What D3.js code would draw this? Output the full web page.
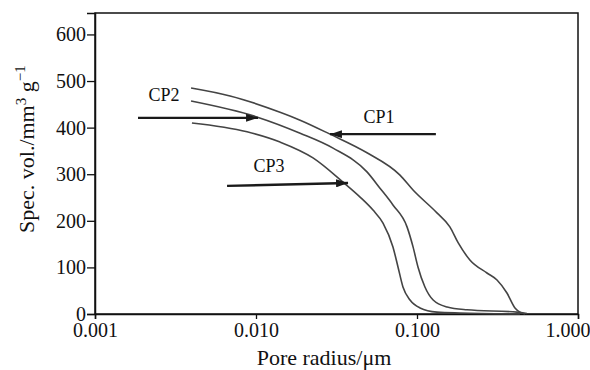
<!DOCTYPE html>
<html>
<head>
<meta charset="utf-8">
<script src="https://cdn.jsdelivr.net/npm/d3@7"></script>
<style>
    body { margin: 0; background: #fff; }
    svg text { font-family: "Liberation Serif", "Times New Roman", serif; fill: #111; }
</style>
</head>
<body>
<div id="chart"></div>
<script>
// pore size distribution
var cp1Radius = [0.00395, 0.0069, 0.0141, 0.0188, 0.0288, 0.0489, 0.0784, 0.0945, 0.133, 0.160, 0.180, 0.213, 0.272, 0.314, 0.362, 0.406, 0.436, 0.469];
var cp1Volume = [485, 468, 433, 416, 386, 346, 298, 266, 217, 187, 153, 116, 88, 73, 45, 13, 4, 0];

var cp2Radius = [0.00395, 0.0101, 0.0188, 0.0301, 0.0489, 0.0589, 0.0709, 0.0867, 0.0945, 0.1014, 0.112, 0.126, 0.154, 0.204, 0.418, 0.482];
var cp2Volume = [457, 423, 388, 356, 305, 270, 234, 187, 144, 101, 58, 30, 15, 9, 4, 1];

var cp3Radius = [0.0040, 0.0088, 0.0141, 0.0226, 0.0347, 0.0443, 0.0533, 0.0615, 0.0709, 0.0762, 0.0818, 0.0905, 0.1044, 0.133, 0.185, 0.436];
var cp3Volume = [410, 391, 369, 335, 283, 251, 223, 195, 144, 101, 58, 30, 13, 4, 2, 0];

var xTicks = [0.001, 0.01, 0.1, 1];
var yTicks = [0, 100, 200, 300, 400, 500, 600];

// labels and arrows, in data units
var labelNames = ['CP1', 'CP2', 'CP3'];
var labelAt = [[0.0581, 410], [0.00268, 457], [0.01205, 305]];
var arrowFrom = [[0.131, 386], [0.00185, 421], [0.00661, 275]];
var arrowTo = [[0.0288, 386], [0.0103, 421], [0.0373, 281]];

var width = 590, height = 370;
var margin = {top: 13, right: 12, bottom: 56, left: 95};

var svg = d3.select('#chart').append('svg')
    .attr('width', width)
    .attr('height', height);

var x = d3.scaleLog()
    .domain([0.001, 1])
    .range([margin.left, width - margin.right]);

var y = d3.scaleLinear()
    .domain([0, 646])
    .range([height - margin.bottom, margin.top]);

svg.append('defs').append('marker')
    .attr('id', 'head')
    .attr('markerUnits', 'userSpaceOnUse')
    .attr('viewBox', '0 0 12 8')
    .attr('refX', 12)
    .attr('refY', 4)
    .attr('markerWidth', 12)
    .attr('markerHeight', 8)
    .attr('orient', 'auto')
    .append('path')
    .attr('d', 'M0,0L12,4L0,8Z')
    .attr('fill', '#1a1a1a');

// frame
svg.append('rect')
    .attr('x', x(0.001))
    .attr('y', y(646))
    .attr('width', x(1) - x(0.001))
    .attr('height', y(0) - y(646))
    .attr('fill', 'none')
    .attr('stroke', '#111')
    .attr('stroke-width', 1.5);

var xAxis = svg.append('g')
    .attr('transform', 'translate(0,' + y(0) + ')')
    .call(d3.axisBottom(x).tickValues(xTicks).tickFormat(d3.format('.3f')).tickSize(5).tickPadding(4));

var yAxis = svg.append('g')
    .attr('transform', 'translate(' + x(0.001) + ',0)')
    .call(d3.axisLeft(y).tickValues(yTicks).tickSize(8).tickPadding(1));

[xAxis, yAxis].forEach(function(a) {
    a.select('.domain').attr('stroke', '#111').attr('stroke-width', 1.5);
    a.selectAll('.tick line').attr('stroke', '#111').attr('stroke-width', 1.3);
    a.selectAll('.tick text').attr('font-size', 20).attr('fill', '#111')
        .style('font-family', '"Liberation Serif", "Times New Roman", serif');
});

// last x label is pushed in so it fits the page
xAxis.selectAll('.tick text').filter(function(d) { return d === 1; })
    .attr('text-anchor', 'end')
    .attr('x', width - x(1));

var line = d3.line()
    .x(function(d) { return x(d[0]); })
    .y(function(d) { return y(d[1]); })
    .curve(d3.curveMonotoneX);

[[cp1Radius, cp1Volume], [cp2Radius, cp2Volume], [cp3Radius, cp3Volume]].forEach(function(s) {
    var pts = s[0].map(function(r, i) { return [r, s[1][i]]; });
    svg.append('path')
        .datum(pts)
        .attr('d', line)
        .attr('fill', 'none')
        .attr('stroke', '#444')
        .attr('stroke-width', 1.6);
});

for (var i = 0; i < labelNames.length; i++) {
    svg.append('line')
        .attr('x1', x(arrowFrom[i][0]))
        .attr('y1', y(arrowFrom[i][1]))
        .attr('x2', x(arrowTo[i][0]))
        .attr('y2', y(arrowTo[i][1]))
        .attr('stroke', '#1a1a1a')
        .attr('stroke-width', 2.4)
        .attr('marker-end', 'url(#head)');

    svg.append('text')
        .attr('x', x(labelAt[i][0]))
        .attr('y', y(labelAt[i][1]))
        .attr('text-anchor', 'middle')
        .attr('font-size', 18)
        .text(labelNames[i]);
}

svg.append('text')
    .attr('x', 324)
    .attr('y', 365)
    .attr('text-anchor', 'middle')
    .attr('font-size', 22)
    .text('Pore radius/μm');

var yTitle = svg.append('text')
    .attr('transform', 'translate(34,233) rotate(-90)')
    .attr('font-size', 22);
yTitle.append('tspan').text('Spec. vol./mm');
yTitle.append('tspan').attr('font-size', 15).attr('dy', -8).text('3');
yTitle.append('tspan').attr('dy', 8).text(' g');
yTitle.append('tspan').attr('font-size', 15).attr('dy', -9).text('−1');
</script>
</body>
</html>
